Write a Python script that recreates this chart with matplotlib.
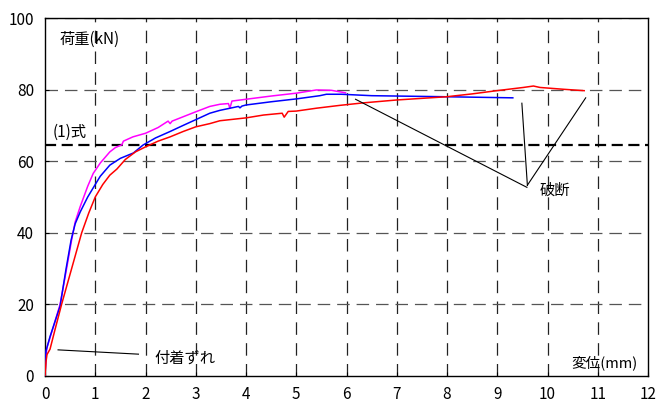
import matplotlib
matplotlib.use("Agg")
import matplotlib.pyplot as plt

plt.rcParams['font.family'] = ['Noto Sans CJK JP', 'DejaVu Sans']
plt.rcParams['lines.scale_dashes'] = False

# data (displacement mm, load kN)
mag_x = [0, 0.02, 0.04, 0.15, 0.3, 0.43, 0.53, 0.6, 0.7, 0.85, 0.96, 1.1, 1.29, 1.4, 1.53, 1.56, 1.75, 2.0, 2.25, 2.45, 2.49, 2.53, 3.0, 3.28, 3.48, 3.65, 3.68, 3.72, 4.0, 4.5, 5.0, 5.4, 5.7, 5.98]
mag_y = [0, 6, 8, 13, 20, 30, 38, 43, 47.3, 53, 56.6, 59.5, 62.6, 63.8, 64.6, 65.6, 66.8, 67.8, 69.4, 71.2, 70.5, 71.2, 73.8, 75.3, 75.9, 76.1, 74.8, 76.8, 77.3, 78.2, 79.0, 79.9, 79.8, 79.1]

blue_x = [0, 0.02, 0.1, 0.3, 0.42, 0.52, 0.6, 0.7, 0.85, 1.0, 1.1, 1.29, 1.5, 1.76, 1.95, 2.2, 2.49, 2.75, 3.0, 3.28, 3.48, 3.85, 3.88, 3.92, 4.0, 4.5, 5.0, 5.47, 5.6, 5.9, 6.5, 7.0, 8.0, 9.31]
blue_y = [0, 7, 11, 19.5, 30, 38, 42.5, 45.8, 50, 53.5, 55.8, 58.9, 60.8, 62.3, 64.5, 66.5, 68.3, 70, 71.6, 73.4, 74.2, 75.3, 74.9, 75.4, 75.7, 76.6, 77.4, 78.3, 78.7, 78.7, 78.3, 78.2, 78.0, 77.7]

red_x = [0, 0.02, 0.04, 0.1, 0.2, 0.33, 0.53, 0.73, 0.87, 1.0, 1.15, 1.29, 1.43, 1.6, 1.8, 2.0, 2.25, 2.49, 2.75, 3.0, 3.28, 3.48, 4.0, 4.35, 4.72, 4.76, 4.84, 5.0, 5.4, 5.87, 6.34, 7.0, 7.99, 8.5, 8.99, 9.52, 9.72, 9.85, 10.31, 10.73]
red_y = [0, 4, 6, 7.5, 13, 20, 30, 40, 45.5, 50, 53.5, 56.1, 57.8, 60.5, 62.6, 64.0, 65.6, 66.8, 68.3, 69.6, 70.5, 71.3, 72.1, 72.9, 73.4, 72.3, 73.9, 74.0, 74.8, 75.6, 76.3, 77.1, 78.0, 78.8, 79.7, 80.6, 81.0, 80.6, 80.1, 79.7]

formula_load = 64.5
x_ticks = list(range(0, 13))
y_ticks = [0, 20, 40, 60, 80, 100]

fig = plt.figure(figsize=(6.57, 4.03), dpi=100)
ax = fig.add_axes([45/657, 27/403, 603/657, 358/403])
ax.set_xlim(0, 12)
ax.set_ylim(0, 100)
ax.set_xticks(x_ticks)
ax.set_yticks(y_ticks)
ax.tick_params(direction='in', length=3, width=0.8, labelsize=11)
ax.tick_params(axis='x', pad=7)
ax.tick_params(axis='y', pad=8)
for s in ax.spines.values():
    s.set_linewidth(1.0)
    s.set_color('black')

# grid
for xv in x_ticks[1:-1]:
    ax.axvline(xv, color='#222222', lw=0.9, dashes=(9, 6), zorder=1)
for yv in y_ticks[1:]:
    ax.axhline(yv, color='#555555', lw=0.9, dashes=(9, 5), zorder=1)

ax.axhline(formula_load, color='black', lw=1.6, dashes=(8, 4), zorder=2)

ax.plot(mag_x, mag_y, color='#ff00ff', lw=1.1, zorder=3)
ax.plot(blue_x, blue_y, color='#0000ff', lw=1.1, zorder=4)
ax.plot(red_x, red_y, color='#ff0000', lw=1.1, zorder=5)

# annotation lines
ax.plot([6.18, 9.59], [77.3, 52.7], color='black', lw=0.8, zorder=6)
ax.plot([9.49, 9.6], [76.2, 53.2], color='black', lw=0.8, zorder=6)
ax.plot([10.76, 9.6], [77.7, 53.3], color='black', lw=0.8, zorder=6)
ax.plot([0.26, 1.86], [7.3, 6.1], color='black', lw=0.8, zorder=6)

ax.text(9.85, 51.8, '破断', fontsize=11, va='center', ha='left')
ax.text(2.17, 4.9, '付着ずれ', fontsize=11, va='center', ha='left')
ax.text(0.3, 94.1, '荷重(kN)', fontsize=11, va='center', ha='left')
ax.text(0.16, 68.2, '(1)式', fontsize=11, va='center', ha='left')
ax.text(10.48, 3.8, '変位(mm)', fontsize=10.5, va='center', ha='left')

fig.savefig('out.png', dpi=100)
